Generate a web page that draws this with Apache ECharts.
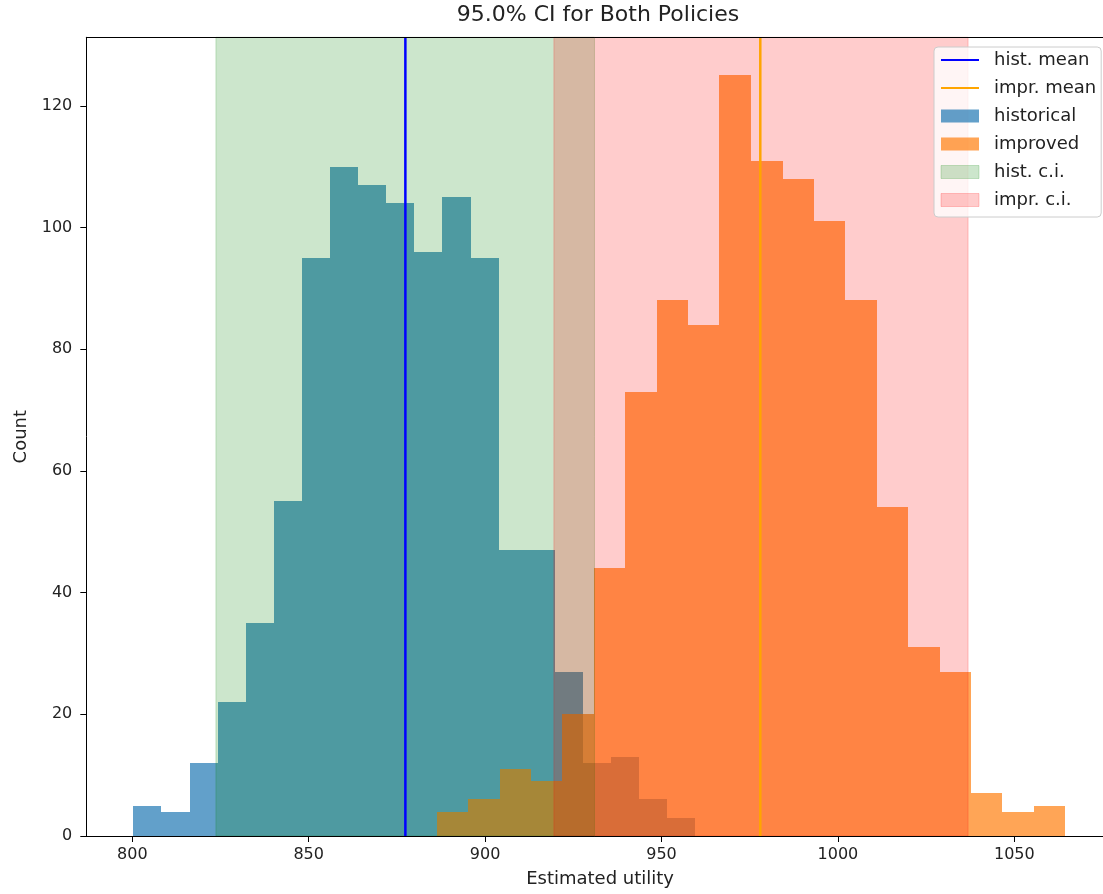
<!DOCTYPE html>
<html>
<head>
<meta charset="utf-8">
<title>95.0% CI for Both Policies</title>
<script src="https://cdn.jsdelivr.net/npm/echarts@6/dist/echarts.min.js"></script>
<style>
  html, body { margin: 0; padding: 0; background: #ffffff; }
  #chart { width: 1103px; height: 894px; }
</style>
</head>
<body>
<div id="chart"></div>
<script>
// Histogram bin edges (20 bins each) and counts
const histEdges = [800.3, 808.27, 816.23, 824.2, 832.16, 840.13, 848.09, 856.06, 864.02, 871.99,
                   879.95, 887.92, 895.88, 903.85, 911.81, 919.78, 927.74, 935.71, 943.67, 951.64, 959.6];
const histCounts = [5, 4, 12, 22, 35, 55, 95, 110, 107, 104, 96, 105, 95, 47, 47, 27, 12, 13, 6, 3];

const imprEdges = [886.3, 895.2, 904.1, 913.0, 921.9, 930.8, 939.7, 948.6, 957.5, 966.4,
                   975.4, 984.3, 993.2, 1002.1, 1011.0, 1019.9, 1028.8, 1037.7, 1046.6, 1055.5, 1064.4];
const imprCounts = [4, 6, 11, 9, 20, 44, 73, 88, 84, 125, 111, 108, 101, 88, 54, 31, 27, 7, 4, 5];

// Means and 95% confidence intervals
const histMean = 877.4;
const imprMean = 978.0;
const histCI = [823.7, 931.0];
const imprCI = [919.5, 1036.9];

// Axis limits and tick labels
const xLimits = [786.96, 1078.2];
const yLimits = [0, 131.25];
const xTicks = [800, 850, 900, 950, 1000, 1050];
const yTicks = [0, 20, 40, 60, 80, 100, 120];

const FONT = 'DejaVu Sans';
const TEXT = '#222222';

const C_HIST = 'rgba(31,119,180,0.7)';
const C_IMPR = 'rgba(255,127,14,0.7)';
const C_HCI = 'rgba(0,128,0,0.2)';
const C_ICI = 'rgba(255,0,0,0.2)';
const NO_SYMBOL = { color: 'rgba(0,0,0,0)', borderWidth: 0 };

function binRows(edges, counts) {
  return counts.map((c, i) => [edges[i], edges[i + 1], c]);
}

// Bars snap to whole pixels so neighbouring bins share an edge without seams
function renderBar(params, api) {
  const top = api.coord([api.value(0), api.value(2)]);
  const base = api.coord([api.value(1), 0]);
  const x0 = Math.round(top[0]);
  const x1 = Math.round(base[0]);
  const y0 = Math.round(top[1]);
  const y1 = Math.round(base[1]);
  return {
    type: 'rect',
    shape: { x: x0, y: y0, width: x1 - x0, height: y1 - y0 },
    style: api.style({ stroke: null })
  };
}

function renderSpan(params, api) {
  const cs = params.coordSys;
  const a = api.coord([api.value(0), 0]);
  const b = api.coord([api.value(1), 0]);
  return {
    type: 'rect',
    shape: { x: a[0], y: cs.y, width: b[0] - a[0], height: cs.height },
    style: api.style({ lineWidth: 1 })
  };
}

const chart = echarts.init(document.getElementById('chart'), null, { renderer: 'canvas' });

const option = {
  animation: false,
  backgroundColor: '#ffffff',
  textStyle: { fontFamily: FONT, color: TEXT },
  title: {
    text: '95.0% CI for Both Policies',
    left: 598,
    top: 4,
    padding: 0,
    textAlign: 'center',
    textStyle: { fontFamily: FONT, fontSize: 22, fontWeight: 'normal', color: TEXT }
  },
  legend: {
    orient: 'vertical',
    left: 934,
    top: 47,
    z: 20,
    padding: [4, 5, 8, 6],
    itemWidth: 38,
    itemHeight: 13,
    itemGap: 10,
    backgroundColor: 'rgba(255,255,255,0.8)',
    borderColor: '#cccccc',
    borderWidth: 1,
    borderRadius: 4,
    textStyle: { fontFamily: FONT, fontSize: 18, color: TEXT, padding: [0, 0, 0, 10] },
    data: [
      { name: 'hist. mean', itemStyle: NO_SYMBOL },
      { name: 'impr. mean', itemStyle: NO_SYMBOL },
      { name: 'historical', icon: 'rect', itemStyle: { color: C_HIST } },
      { name: 'improved', icon: 'rect', itemStyle: { color: C_IMPR } },
      { name: 'hist. c.i.', icon: 'rect', itemStyle: { color: C_HCI, borderColor: C_HCI, borderWidth: 1 } },
      { name: 'impr. c.i.', icon: 'rect', itemStyle: { color: C_ICI, borderColor: C_ICI, borderWidth: 1 } }
    ]
  },
  grid: {
    left: 86.3,
    top: 37.3,
    width: 1027.5,
    height: 798.7,
    outerBoundsMode: 'none'
  },
  xAxis: [
    {
      type: 'value',
      min: xLimits[0],
      max: xLimits[1],
      z: 10,
      name: 'Estimated utility',
      nameLocation: 'middle',
      nameGap: 34,
      nameTextStyle: { fontFamily: FONT, fontSize: 18, color: TEXT },
      splitLine: { show: false },
      axisLine: { show: true, lineStyle: { color: '#000000', width: 1 } },
      axisTick: { show: true, customValues: xTicks, length: 6, lineStyle: { color: '#000000' } },
      axisLabel: {
        customValues: xTicks, margin: 11,
        fontFamily: FONT, fontSize: 16, color: TEXT,
        formatter: v => String(v)
      }
    },
    {
      type: 'value',
      position: 'top',
      min: xLimits[0],
      max: xLimits[1],
      z: 10,
      splitLine: { show: false },
      axisLine: { show: true, lineStyle: { color: '#000000', width: 1 } },
      axisTick: { show: false },
      axisLabel: { show: false }
    }
  ],
  yAxis: {
    type: 'value',
    min: yLimits[0],
    max: yLimits[1],
    z: 10,
    name: 'Count',
    nameLocation: 'middle',
    nameGap: 56,
    nameTextStyle: { fontFamily: FONT, fontSize: 18, color: TEXT },
    splitLine: { show: false },
    axisLine: { show: true, lineStyle: { color: '#000000', width: 1 } },
    axisTick: { show: true, customValues: yTicks, length: 6, lineStyle: { color: '#000000' } },
    axisLabel: {
      customValues: yTicks, margin: 14,
      fontFamily: FONT, fontSize: 16, color: TEXT,
      formatter: v => String(v)
    }
  },
  series: [
    {
      name: 'historical',
      type: 'custom',
      z: 2,
      renderItem: renderBar,
      itemStyle: { color: C_HIST },
      encode: { x: [0, 1], y: 2 },
      data: binRows(histEdges, histCounts)
    },
    {
      name: 'improved',
      type: 'custom',
      z: 3,
      renderItem: renderBar,
      itemStyle: { color: C_IMPR },
      encode: { x: [0, 1], y: 2 },
      data: binRows(imprEdges, imprCounts)
    },
    {
      name: 'hist. c.i.',
      type: 'custom',
      z: 4,
      renderItem: renderSpan,
      itemStyle: { color: C_HCI, borderColor: C_HCI },
      encode: { x: [0, 1] },
      data: [histCI]
    },
    {
      name: 'impr. c.i.',
      type: 'custom',
      z: 5,
      renderItem: renderSpan,
      itemStyle: { color: C_ICI, borderColor: C_ICI },
      encode: { x: [0, 1] },
      data: [imprCI]
    },
    {
      name: 'hist. mean',
      type: 'line',
      z: 6,
      symbol: 'none',
      lineStyle: { color: '#0000ff', width: 2.5 },
      itemStyle: { color: '#0000ff' },
      data: [[histMean, yLimits[0]], [histMean, yLimits[1]]]
    },
    {
      name: 'impr. mean',
      type: 'line',
      z: 6,
      symbol: 'none',
      lineStyle: { color: '#ffa500', width: 2.5 },
      itemStyle: { color: '#ffa500' },
      data: [[imprMean, yLimits[0]], [imprMean, yLimits[1]]]
    }
  ]
};

chart.setOption(option);
</script>
</body>
</html>
